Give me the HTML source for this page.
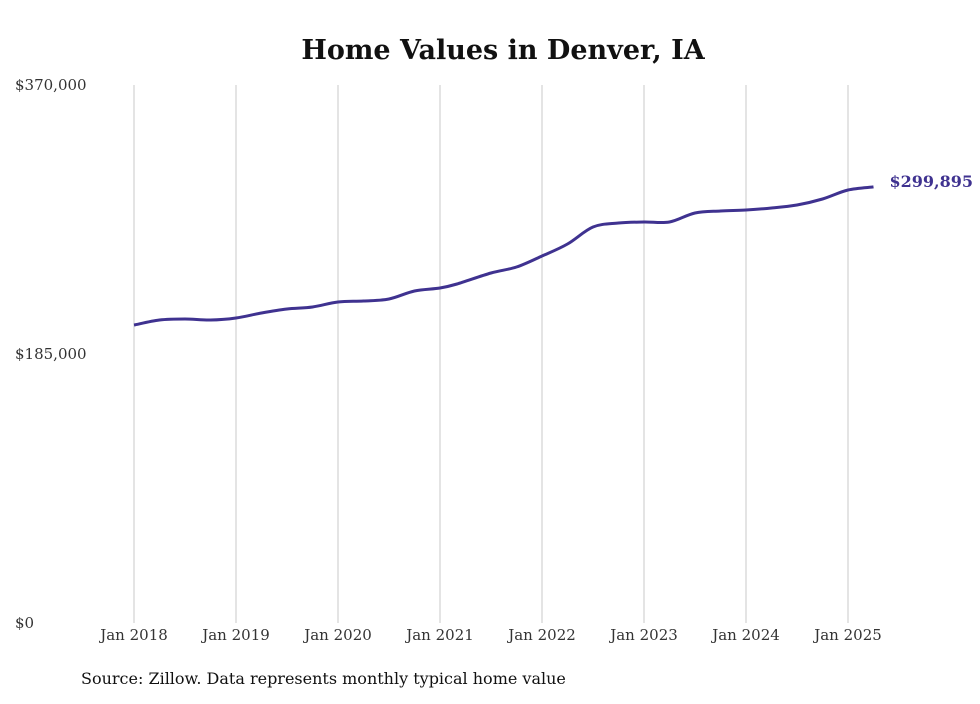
<!DOCTYPE html>
<html><head><meta charset="utf-8">
<style>
body{margin:0;background:#fff;}
svg text{font-family:"DejaVu Serif","Liberation Serif",serif;}
</style></head>
<body>
<svg id="chart" width="980" height="699" viewBox="0 0 980 699" xmlns="http://www.w3.org/2000/svg">
<rect width="980" height="699" fill="#fff"/>
<text x="503" y="59" text-anchor="middle" font-size="27" font-weight="bold" fill="#111">Home Values in Denver, IA</text>
<g id="grid"></g>
<g id="yaxis"></g>
<g id="xaxis"></g>
<path id="line" fill="none" stroke="#3f3290" stroke-width="3" stroke-linejoin="round"/>
<text id="endlabel" font-size="16" font-weight="bold" fill="#3f3290"></text>
<text x="81" y="684" font-size="16" fill="#111">Source: Zillow. Data represents monthly typical home value</text>
</svg>
<script>
const months=[0,3,6,9,12,15,18,21,24,27,30,33,36,38,42,45,48,51,54,57,60,63,66,69,72,75,78,81,84,87];
const values=[204935,208370,209060,208370,209750,213190,215940,217320,220760,221440,222820,228320,230380,233130,240700,244820,252380,260640,272330,275080,275770,275770,281960,283330,284020,285390,287460,291580,297770,299895];
const yTicks=[0,185000,370000];
const yTickLabels=["$0","$185,000","$370,000"];
const xTickMonths=[0,12,24,36,48,60,72,84];
const xTickLabels=["Jan 2018","Jan 2019","Jan 2020","Jan 2021","Jan 2022","Jan 2023","Jan 2024","Jan 2025"];
const endLabel="$299,895";

const x0=134,pxPerMonth=102/12,yBase=623,yTop=85,yMax=370000;
const X=m=>x0+m*pxPerMonth;
const Y=v=>yBase-(v/yMax)*(yBase-yTop);
const NS="http://www.w3.org/2000/svg";
const grid=document.getElementById('grid'),ya=document.getElementById('yaxis'),xa=document.getElementById('xaxis');
xTickMonths.forEach((m,i)=>{
  const l=document.createElementNS(NS,'line');
  
  
  l.setAttribute('x1',X(m));l.setAttribute('x2',X(m));l.setAttribute('y1',Y(yMax));l.setAttribute('y2',yBase);
  l.setAttribute('stroke','#bdbdbd');l.setAttribute('stroke-width','0.8');
  grid.appendChild(l);
  const t=document.createElementNS(NS,'text');
  
  
  t.setAttribute('x',X(m));t.setAttribute('y',640);t.setAttribute('text-anchor','middle');
  t.setAttribute('font-size','15');t.setAttribute('fill','#333');
  t.textContent=xTickLabels[i];xa.appendChild(t);
});
yTicks.forEach((v,i)=>{
  const t=document.createElementNS(NS,'text');
  
  
  t.setAttribute('x',15);t.setAttribute('y',Y(v)+5);
  t.setAttribute('font-size','15');t.setAttribute('fill','#333');
  t.textContent=yTickLabels[i];ya.appendChild(t);
});
const pts=months.map((m,i)=>[X(m),Y(values[i])]);
let d='M'+pts[0][0].toFixed(1)+','+pts[0][1].toFixed(1);
for(let i=0;i<pts.length-1;i++){
  const p0=pts[Math.max(0,i-1)],p1=pts[i],p2=pts[i+1],p3=pts[Math.min(pts.length-1,i+2)];
  const c1x=p1[0]+(p2[0]-p0[0])/6,c1y=p1[1]+(p2[1]-p0[1])/6;
  const c2x=p2[0]-(p3[0]-p1[0])/6,c2y=p2[1]-(p3[1]-p1[1])/6;
  d+='C'+c1x.toFixed(1)+','+c1y.toFixed(1)+' '+c2x.toFixed(1)+','+c2y.toFixed(1)+' '+p2[0].toFixed(1)+','+p2[1].toFixed(1);
}
document.getElementById('line').setAttribute('d',d);
const el=document.getElementById('endlabel');
const lm=months[months.length-1],lv=values[values.length-1];
el.setAttribute('x',X(lm)+16);el.setAttribute('y',Y(lv)+0);
el.textContent=endLabel;
</script>
</body></html>
